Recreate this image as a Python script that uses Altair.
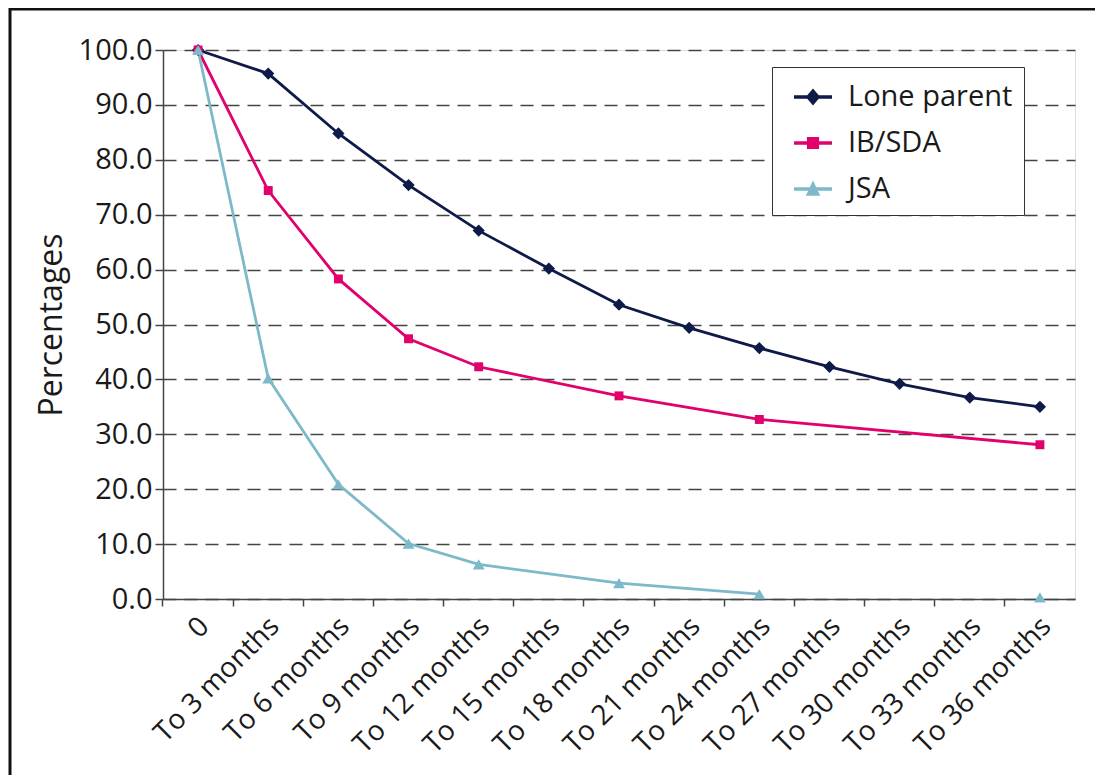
import altair as alt
import pandas as pd

categories = ["0", "To 3 months", "To 6 months", "To 9 months", "To 12 months",
              "To 15 months", "To 18 months", "To 21 months", "To 24 months",
              "To 27 months", "To 30 months", "To 33 months", "To 36 months"]
series_names = ["Lone parent", "IB/SDA", "JSA"]
lone_parent = [100.0, 95.7, 84.8, 75.4, 67.1, 60.2, 53.6, 49.4, 45.7, 42.3, 39.2, 36.7, 35.0]
ib_sda = [100.0, 74.4, 58.3, 47.4, 42.3, None, 37.0, None, 32.7, None, None, None, 28.1]
jsa = [100.0, 40.2, 20.9, 10.1, 6.3, None, 2.9, None, 0.9, None, None, None, 0.3]
# JSA's last value is shown as a marker only (not joined to the line)
unjoined = [("JSA", "To 36 months")]

colors = ["#0e1a48", "#e2006d", "#7db9c9"]
marker_shapes = ["diamond", "square", "triangle-up"]
marker_sizes = [150, 80, 140]
legend_paths = [
    "M-1,-0.09L1,-0.09L1,0.09L-1,0.09Z M0,-0.45L0.38,0L0,0.45L-0.38,0Z",
    "M-1,-0.09L1,-0.09L1,0.09L-1,0.09Z M-0.32,-0.32L0.32,-0.32L0.32,0.32L-0.32,0.32Z",
    "M-1,-0.09L1,-0.09L1,0.09L-1,0.09Z M0,-0.45L0.38,0.36L-0.38,0.36Z",
]

rows = []
for name, vals in zip(series_names, [lone_parent, ib_sda, jsa]):
    for c, v in zip(categories, vals):
        if v is not None:
            rows.append({"series": name, "period": c, "value": v,
                         "joined": (name, c) not in unjoined})
df = pd.DataFrame(rows)

FONT = "Open Sans"
W, H = 912, 549

x_enc = alt.X("period:O", sort=categories,
              scale=alt.Scale(type="band", paddingInner=0, paddingOuter=0),
              axis=alt.Axis(title=None, labelAngle=-45, labelFontSize=28, labelFont=FONT,
                            labelColor="#1a1a1a", bandPosition=0, labelOffset=-3,
                            labelPadding=6, tickSize=7, tickColor="#444", tickWidth=1.5,
                            domainColor="#444", domainWidth=1.5, grid=False))
y_enc = alt.Y("value:Q", scale=alt.Scale(domain=[0, 100], nice=False),
              axis=alt.Axis(title="Percentages", titleFont=FONT, titleFontSize=32,
                            titleFontWeight="normal", titleColor="#1a1a1a", titlePadding=10,
                            values=list(range(0, 101, 10)), format=".1f",
                            labelFont=FONT, labelFontSize=29, labelColor="#1a1a1a",
                            labelPadding=3, tickSize=8, tickColor="#444", tickWidth=1.5,
                            domainColor="#444", domainWidth=1.5,
                            grid=True, gridColor="#444", gridDash=[13, 8], gridWidth=1.5))

color_scale = alt.Scale(domain=series_names, range=colors)

legend_layer = alt.Chart(df).mark_point(filled=True, opacity=1).encode(
    x=x_enc, y=y_enc,
    size=alt.value(0),
    fill=alt.Fill("series:N", scale=alt.Scale(domain=series_names, range=colors),
                  legend=alt.Legend(title=None, orient="none", legendX=609, legendY=17,
                                    labelFont=FONT, labelFontSize=29, labelColor="#1a1a1a",
                                    labelLimit=400,
                                    symbolSize=1444, symbolStrokeWidth=0, symbolOpacity=1,
                                    symbolOffset=11, labelOffset=16, rowPadding=12,
                                    padding=11, fillColor="white", strokeColor="#333")),
    shape=alt.Shape("series:N", scale=alt.Scale(domain=series_names, range=legend_paths)),
)

lines = alt.Chart(df).transform_filter("datum.joined").mark_line(strokeWidth=2.8).encode(
    x=x_enc, y=y_enc,
    color=alt.Color("series:N", scale=color_scale, legend=None),
    detail="series:N",
)

point_layers = []
for name, col, shp, sz in zip(series_names, colors, marker_shapes, marker_sizes):
    point_layers.append(
        alt.Chart(df).transform_filter(alt.datum.series == name)
        .mark_point(filled=True, shape=shp, size=sz, color=col, opacity=1)
        .encode(x=x_enc, y=y_enc)
    )

frame_top = alt.Chart(alt.Data(values=[{}])).mark_rule(color="#111", strokeWidth=3).encode(
    x=alt.value(-153), x2=alt.value(960), y=alt.value(-41))
frame_left = alt.Chart(alt.Data(values=[{}])).mark_rule(color="#111", strokeWidth=3).encode(
    x=alt.value(-153), y=alt.value(-42), y2=alt.value(760))

chart = alt.layer(legend_layer, lines, *point_layers, frame_top, frame_left).properties(
    width=W, height=H,
    autosize=alt.AutoSizeParams(type="none"),
    padding={"left": 155, "top": 42, "right": 20, "bottom": 176},
).configure_view(stroke="#555", strokeWidth=1.5).configure_legend(
    strokeWidth=1.5).configure(background="white")

chart.save("out.html", embed_options={"renderer": "svg", "actions": False})
